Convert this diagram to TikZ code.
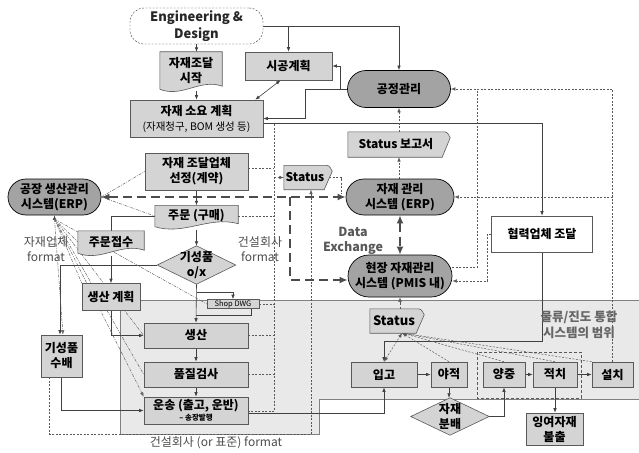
\documentclass[tikz,border=0pt]{standalone}
\usepackage{fontspec}
\setmainfont{Noto Sans CJK KR}
\usetikzlibrary{shapes.misc,shapes.geometric,arrows.meta,calc}
\pgfdeclarelayer{back}\pgfdeclarelayer{edges}\pgfdeclarelayer{shp}
\pgfsetlayers{back,edges,shp,main}
\definecolor{boxfill}{HTML}{D4D4D4}
\definecolor{darkfill}{HTML}{A3A3A3}
\definecolor{regionfill}{HTML}{E9E9E9}
\definecolor{linec}{HTML}{404040}
\tikzset{
 every node/.style={font=\fontsize{12}{15}\selectfont\bfseries, align=center, inner sep=0pt},
 box/.style={draw=black!65, fill=boxfill, line width=0.6pt},
 stad/.style={rounded rectangle, draw=black, fill=darkfill, line width=0.7pt},
 txt/.style={draw=none, fill=none},
 lbl/.style={font=\fontsize{12}{15}\selectfont, text=black!70},
 shpst/.style={draw=black!65, fill=boxfill, line width=0.6pt},
 ln/.style={draw=linec, line width=0.6pt},
 arr/.style={ln, -{Latex[length=4.5pt,width=3.5pt]}},
 tip/.style={-{Latex[length=4.5pt,width=3.5pt]}},
 dtip/.style={{Latex[length=4.5pt,width=3.5pt]}-{Latex[length=4.5pt,width=3.5pt]}},
 dsh/.style={draw=black!65, line width=0.5pt, dash pattern=on 2pt off 1.5pt},
 ddt/.style={draw=black!60, line width=0.5pt, dash pattern=on 3pt off 1.2pt on 0.8pt off 1.2pt},
 thk/.style={draw=black!70, line width=2.2pt, dash pattern=on 9pt off 5pt},
 bigtip/.style={-{Latex[length=8pt,width=7pt]}},
 bigdtip/.style={{Latex[length=8pt,width=7pt]}-{Latex[length=8pt,width=7pt]}},
}
\newcommand{\mydoc}[1]{\draw[shpst] (#1.north west) -- (#1.north east) -- ($(#1.south east)+(0,-3)$) .. controls ($(#1.south east)!0.35!(#1.south west)+(0,-11)$) and ($(#1.south west)!0.35!(#1.south east)+(0,9)$) .. (#1.south west) -- cycle;}
\newcommand{\mystat}[1]{\draw[shpst] (#1.north west) -- ($(#1.north east)+(-3,0)$) .. controls ($(#1.north east)+(3,0)$) .. ($(#1.north east)+(6,6)$) -- ($(#1.south east)+(-2,0)$) -- (#1.south west) -- cycle;}
\begin{document}
\begin{tikzpicture}[x=1pt,y=-1pt]
\useasboundingbox (0,0) rectangle (639,452);
\begin{pgfonlayer}{back}
\fill[white] (0,0) rectangle (639,452);
\fill[regionfill] (120,300) -- (639,300) -- (639,399) -- (319,399) -- (319,434) -- (120,434) -- cycle;
\draw[black!50, line width=0.6pt] (120,300) -- (639,300) -- (639,399) -- (319,399) -- (319,434) -- (120,434) -- cycle;
\end{pgfonlayer}

% nodes
\node[draw=black!80, dash pattern=on 2pt off 1.5pt, rounded corners=14pt, fill=white, minimum width=133pt, minimum height=36pt, font=\fontsize{13}{17}\selectfont\bfseries, text=black!85] (ED) at (196.5,26) {Engineering \&\\Design};
\node[txt, minimum width=62pt, minimum height=37pt] (s1) at (191,70.5) {자재조달\\시작};
\node[box, minimum width=87pt, minimum height=28pt] (s2) at (288.5,66) {시공계획};
\node[stad, minimum width=103pt, minimum height=37pt] (PM) at (399,89) {공정관리};
\node[box, minimum width=133pt, minimum height=37pt] (s3) at (196.5,118.5) {자재 소요 계획\\{\fontsize{10.5}{13}\selectfont\mdseries (자재청구, BOM 생성 등)}};
\node[txt, minimum width=96pt, minimum height=25pt] (SR) at (396,144.5) {Status 보고서};
\node[box, minimum width=103pt, minimum height=37pt] (s4) at (196.5,171.5) {자재 조달업체\\선정(계약)};
\node[txt, minimum width=42pt, minimum height=24pt] (st1) at (305,177.5) {Status};
\node[stad, minimum width=93pt, minimum height=36pt] (ERP1) at (54.5,197) {공장 생산관리\\시스템(ERP)};
\node[stad, minimum width=108pt, minimum height=36pt] (ERP2) at (400,197) {자재 관리\\시스템 (ERP)};
\node[txt, minimum width=83pt, minimum height=21pt] (s5) at (196.5,216) {주문 (구매)};
\node[txt, minimum width=66pt, minimum height=22pt] (s6) at (111,242) {주문접수};
\node[txt, minimum width=78pt, minimum height=38pt] (D1) at (196.5,265) {기성품\\o/x};
\node[draw=black!65, fill=white, line width=0.6pt, minimum width=101pt, minimum height=36pt] (HP) at (542,234) {협력업체 조달};
\node[stad, minimum width=104pt, minimum height=42pt] (ERP3) at (400,276) {현장 자재관리\\시스템 (PMIS 내)};
\node[box, minimum width=58pt, minimum height=27pt] (s7) at (111,297) {생산 계획};
\node[box, minimum width=52pt, minimum height=9pt, font=\fontsize{7.5}{8}\selectfont] (SD) at (233,304) {Shop DWG};
\node[box, minimum width=41pt, minimum height=42pt] (s8) at (61.5,356) {기성품\\수배};
\node[box, minimum width=104pt, minimum height=25pt] (s9) at (196,335.5) {생산};
\node[box, minimum width=104pt, minimum height=25pt] (s10) at (196,374.5) {품질검사};
\node[box, minimum width=104pt, minimum height=27pt] (s11) at (196,410.5) {운송 (출고, 운반)\\[-4pt]{\fontsize{7.5}{8}\selectfont – 송장발행}};
\node[txt, minimum width=48pt, minimum height=24pt, font=\fontsize{13}{15}\selectfont\bfseries] (st2) at (394,321) {Status};
\node[font=\fontsize{12.5}{16}\selectfont\bfseries, text=black!60] (rg) at (579,325) {물류/진도 통합\\시스템의 범위};
\node[box, minimum width=66pt, minimum height=25pt] (s12) at (384,374.5) {입고};
\node[box, minimum width=36pt, minimum height=25pt] (s13) at (449,374.5) {야적};
\node[box, minimum width=42pt, minimum height=25pt] (s14) at (504,374.5) {양중};
\node[box, minimum width=44pt, minimum height=25pt] (s15) at (555,374.5) {적치};
\node[box, minimum width=41pt, minimum height=25pt] (s16) at (612.5,374.5) {설치};
\node[txt, minimum width=78pt, minimum height=37pt] (D2) at (450,416.5) {자재\\분배};
\node[box, minimum width=57pt, minimum height=32pt] (s17) at (554.5,429) {잉여자재\\불출};

\node[lbl] (l1) at (46,249) {자재업체\\format};
\node[lbl] (l3) at (260,249) {건설회사\\format};
\node[lbl, font=\fontsize{12.5}{15}\selectfont\bfseries, text=black!65] (l4) at (353,241) {Data\\Exchange};
\node[lbl] (l5) at (216,443) {건설회사 (or 표준) format};

\begin{pgfonlayer}{shp}
\mydoc{s1}
\mydoc{s5}
\mydoc{s6}
\mystat{SR}
\mystat{st1}
\mystat{st2}
\draw[shpst] (D1.west) -- (D1.north) -- (D1.east) -- (D1.south) -- cycle;
\draw[shpst] (D2.west) -- (D2.north) -- (D2.east) -- (D2.south) -- cycle;
\end{pgfonlayer}

\begin{pgfonlayer}{edges}
\draw[dash pattern=on 3pt off 2pt, black!65, line width=0.6pt] (477,352) rectangle (581,398);
% top part
\draw[arr] (ED.south) -- (ED.south |- s1.north);
\draw[arr] (ED.east) -| (PM.north);
\draw[arr] (s2.north |- ED.east) -- (s2.north);
\draw[arr] ($(s3.north |- s1.south)+(0,2)$) -- (s3.north);
\draw[ln, dtip] ($(s2.south)+(-8,0)$) -- ($(s3.north east)+(-8,0)$);
\draw[arr] (PM.west) -- ++(-7,0) |- (s2.east);
\draw[arr] (PM.west) -- ++(-42,0) |- (s3.east);
\draw[arr] ($(s3.east)+(0,5)$) -| (HP.north);
\draw[arr] (HP.south) -- ++(0,89) -| (s12.north);
\draw[dsh, tip] (PM.south |- SR.north) -- (PM.south);
\draw[dsh, tip] (PM.south |- ERP2.north) -- (PM.south |- SR.south);
% dotted bus
\coordinate (bt) at (274,124);
\coordinate (bb) at (274,411);
\draw[dsh] (bt) -- (bb);
\draw[dsh] ($(s4.east)+(0,-3)$) -- ($(s4.east -| bt)+(0,-3)$);
\draw[dsh, tip] (bt |- st1.west) -- (st1.west);
\draw[dsh] (s5.east) -- (s5.east -| bt);
\draw[dsh] (SD.east) -- (SD.east -| bt);
\draw[dsh] (s9.east) -- (s9.east -| bt);
\draw[dsh] (s10.east) -- (s10.east -| bt);
\draw[dsh] (bb) -- (bb -| s11.east);
\draw[arr] ($(s11.east)+(0,2.5)$) -| (s12.south);
\draw[dsh] ($(st1.east)+(3,0)$) -| ($(ERP2.west)+(-4,-3)$);
% data exchange
\draw[thk, bigdtip] (ERP1.east) -- (ERP2.west);
\coordinate (tj) at (290,197);
\draw[thk, bigtip] (tj) |- ($(ERP3.west)+(0,4)$);
\draw[thk, bigdtip] (ERP2.south) -- (ERP3.north);
% left flow
\draw[arr] (s4.south) -- (s5.north);
\draw[arr] ($(s5.south)+(0,3)$) -- (D1.north);
\draw[ln] (s5.west) -| (s6.north);
\draw[arr] ($(s6.south)+(0,3)$) -- (s7.north);
\draw[arr] (D1.west) -| ($(s8.north)+(-1.5,0)$);
\draw[arr] (D1.south) -- (s9.north);
\draw[arr] ($(D1.south)+(0,8)$) -| (SD.north);
\draw[ln] ($(SD.south east)+(-8,0)$) |- ($(s9.north)+(0,-7)$);
\draw[arr] (s7.south) |- (s9.west);
\draw[arr] (s9) -- (s10);
\draw[arr] (s10) -- (s11);
\draw[arr] (s8.south) |- (s11.west);
% right lower flow
\draw[arr] (s12) -- (s13);
\draw[arr] (s13.south) -- (s13.south |- D2.north);
\draw[arr] (D2.east) -| (s14.south);
\draw[arr] (s14) -- (s15);
\draw[arr] (s15) -- (s16);
\draw[arr] (s15.south) -- (s15.south |- s17.north);
% right dashed
\draw[dsh, tip] (s16.north) |- (PM.east);
\draw[dsh] ($(ERP3.east)+(0,-9)$) -| ($(PM.east)+(26.5,0)$);
\draw[dsh, tip] (s16.north |- ERP2.east) -- (ERP2.east);
\draw[dsh, tip] (HP.west) -- ++(-4,0) |- ($(ERP3.east)+(0,5)$);
\draw[dsh, tip] (ERP3.south |- st2.north) -- (ERP3.south);
\coordinate (sc) at (402,333);
\draw[dsh, dtip] (s12.north) -- (sc);
\draw[dsh, tip] (s13.north) -- (sc);
\draw[dsh, tip] (s14.north) -- (sc);
\draw[dsh, tip] (s15.north) -- (sc);
\draw[dsh, tip] (s16.north west) -- (sc);
% ERP1 fan
\coordinate (E) at (54.5,219);
\draw[ln, tip] (E) -- (ERP1.south);
\draw[ddt] (E) -- (s6.west);
\draw[ddt] (E) -- (s7.north west);
\draw[ddt] (E) -- (s9.west);
\draw[ddt] (E) -- (s10.west);
\draw[ddt, tip] (E) -- (s11.north west);
\draw[ddt, tip] (E) -- ($(s8.north)+(1.5,0)$);
\draw[ddt] (E) -- (SD.west);
\draw[ddt] (ERP1.east) -- (s4.west);
\draw[ddt] (ERP1.east) -- (s5.west);
% long dashed format line
\draw[dsh, tip] ($(s8.south west)+(9,0)$) -- ++(0,57) -| ($(st1.south)+(6,0)$);
\end{pgfonlayer}
\end{tikzpicture}
\end{document}
